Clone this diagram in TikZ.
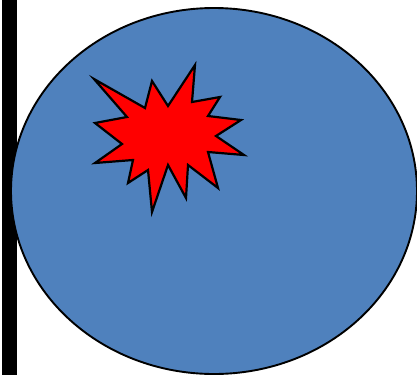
\documentclass[tikz,border=0pt]{standalone}
\definecolor{ovalblue}{HTML}{4F81BD}
\begin{document}
\begin{tikzpicture}[x=1pt,y=-1pt,
  shapeline/.style={draw=black,line join=miter}]
\useasboundingbox (0,0) rectangle (417,375);
\fill[white] (0,0) rectangle (417,375);
% black bar
\fill[black] (2,0) rectangle (17,375);
% ellipse
\draw[shapeline,fill=ovalblue,line width=1.9pt] (214,191) ellipse [x radius=203,y radius=183];
% explosion
\draw[shapeline,fill=red,line width=2.2pt] (94,79) -- (145,108) -- (152,81) -- (168,106) -- (195,65) -- (192,102)
  -- (220,97) -- (208,116) -- (241,120) -- (216,136) -- (244,155) -- (208,152)
  -- (218,188) -- (188,165) -- (186,198) -- (168,165) -- (152,212) -- (148,170)
  -- (128,183) -- (133,160) -- (95,163) -- (122,144) -- (95,123) -- (127,117) -- cycle;
\end{tikzpicture}
\end{document}
